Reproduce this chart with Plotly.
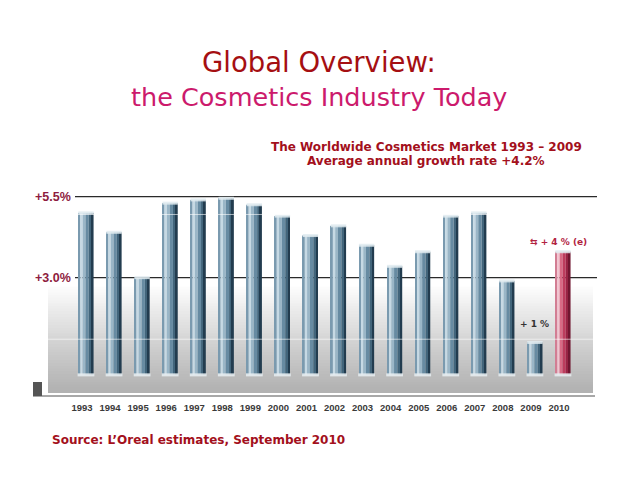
import plotly.graph_objects as go

# growth of the worldwide cosmetics market, % per year
years = [str(y) for y in range(1993, 2011)]
growth = [5.0, 4.4, 3.0, 5.3, 5.4, 5.45, 5.25, 4.9, 4.3, 4.6,
          4.0, 3.35, 3.8, 4.9, 5.0, 2.9, 1.0, 3.8]
estimate = [False] * 17 + [True]   # 2010 is an estimate

ref_values = [5.5, 3.0]
ref_labels = ["+5.5%", "+3.0%"]

# vertical slices of each bar to fake the cylinder shading
# (offset, width, blue, red)
slices = [
    (-0.27, 0.07, "#7a9aaf", "#d27d93"),
    (-0.20, 0.08, "#c6d9e4", "#f2c3cf"),
    (-0.12, 0.10, "#9ab6c7", "#d96a85"),
    (-0.02, 0.12, "#678ba2", "#bd3c5d"),
    (0.10, 0.10, "#42657b", "#982444"),
    (0.20, 0.07, "#223c4f", "#701630"),
]

# the page body adds 8px around the plot, so work in page pixels minus 8
OFF = 8
W, H = 630, 485
L, R, T, B = 48 - OFF, 45, 185 - OFF, 100
pw, ph = W - L - R, H - T - B


def px(x):
    return (x - OFF - L) / pw


def py(y):
    return (H - B - (y - OFF)) / ph


fig = go.Figure()

for off, w, blue, red in slices:
    fig.add_trace(go.Bar(
        x=years, y=growth, offset=off, width=w,
        marker_color=[red if e else blue for e in estimate],
        marker_line_width=0, hoverinfo="skip", showlegend=False,
    ))

# light caps on top and bottom of the bars
fig.add_trace(go.Scatter(
    x=years, y=growth, mode="markers",
    marker=dict(symbol="line-ew", size=11,
                line=dict(width=3, color="rgba(225,235,240,0.85)")),
    hoverinfo="skip", showlegend=False,
))
fig.add_trace(go.Scatter(
    x=years, y=[0] * len(years), mode="markers",
    marker=dict(symbol="line-ew", size=12,
                line=dict(width=3, color="rgba(230,236,240,0.9)")),
    hoverinfo="skip", showlegend=False,
))

shapes = []
# grey gradient at the bottom of the plot area
n = 40
lo, hi = -0.56, 2.8
step = (hi - lo) / n
for i in range(n):
    t = i / (n - 1)
    g = int(178 + (255 - 178) * t ** 1.1)
    shapes.append(dict(type="rect", xref="paper", yref="y", layer="below",
                       x0=0, x1=1, y0=lo + step * i, y1=lo + step * (i + 1) + 0.03,
                       fillcolor=f"rgb({g},{g},{g})", line_width=0))
# reference lines
for v in ref_values:
    shapes.append(dict(type="line", xref="paper", yref="y", layer="below",
                       x0=px(75), x1=px(597), y0=v, y1=v,
                       line=dict(color="#2a2a2a", width=1.2)))
# faint white lines across the panel
for v in [4.95, 1.1]:
    shapes.append(dict(type="line", xref="paper", yref="y", layer="above",
                       x0=0, x1=1, y0=v, y1=v,
                       line=dict(color="rgba(255,255,255,0.6)", width=1)))
# shelf line and little square under the panel
shapes.append(dict(type="line", xref="paper", yref="paper",
                   x0=px(33), x1=px(595), y0=py(396), y1=py(396),
                   line=dict(color="#a8a8a8", width=2)))
shapes.append(dict(type="rect", xref="paper", yref="paper",
                   x0=px(33), x1=px(42), y0=py(396), y1=py(382),
                   fillcolor="#555555", line_width=0))

annotations = []
for v, lab in zip(ref_values, ref_labels):
    annotations.append(dict(x=px(73), xref="paper", y=v, yref="y",
                            xanchor="right", yanchor="middle", showarrow=False,
                            text=f"<b>{lab}</b>",
                            font=dict(family="Liberation Sans", size=12.5, color="#8e1c40")))

# value notes for 2009 and 2010 (category index positions)
i2010, i2009 = len(years) - 1, len(years) - 2
annotations += [
    dict(x=i2010, y=growth[i2010], xref="x", yref="y", yshift=10, xshift=-4,
         showarrow=False, text="<b>⇆ + 4 % (e)</b>",
         font=dict(family="DejaVu Sans", size=9, color="#b2233f")),
    dict(x=i2009, y=growth[i2009], xref="x", yref="y", yshift=18,
         showarrow=False, text="<b>+ 1 %</b>",
         font=dict(family="DejaVu Sans", size=9, color="#333333")),
]

slide_texts = [
    ("Global Overview:", 319, 62, 27.5, "#a50f12", "DejaVu Sans", "center"),
    ("the Cosmetics Industry Today", 319, 97, 25.5, "#cc1a6c", "DejaVu Sans", "center"),
    ("<b>The Worldwide Cosmetics Market 1993 – 2009</b>", 426, 147, 12, "#a3101c",
     "DejaVu Sans", "center"),
    ("<b>Average annual growth rate +4.2%</b>", 426, 161, 12, "#a3101c",
     "DejaVu Sans", "center"),
    ("<b>Source: L’Oreal estimates, September 2010</b>", 50, 440, 12, "#a3101c",
     "DejaVu Sans", "left"),
]
for text, x, y, size, color, fam, anchor in slide_texts:
    annotations.append(dict(x=px(x), y=py(y), xref="paper", yref="paper",
                            xanchor=anchor, yanchor="middle", showarrow=False,
                            text=text, font=dict(family=fam, size=size, color=color)))

fig.update_layout(
    width=W, height=H,
    margin=dict(l=L, r=R, t=T, b=B),
    barmode="overlay",
    paper_bgcolor="white", plot_bgcolor="white",
    shapes=shapes, annotations=annotations,
    xaxis=dict(type="category", range=[-1.354, 18.07], showgrid=False,
               zeroline=False, showline=False, ticks="",
               ticklabelshift=-4, ticklabelstandoff=7,
               tickfont=dict(family="Liberation Sans", size=9.5, color="#3a3a3a",
                             weight="bold")),
    yaxis=dict(range=[-0.56, 5.86], showgrid=False, zeroline=False,
               showticklabels=False, showline=False),
)

fig.write_html("out.html")
